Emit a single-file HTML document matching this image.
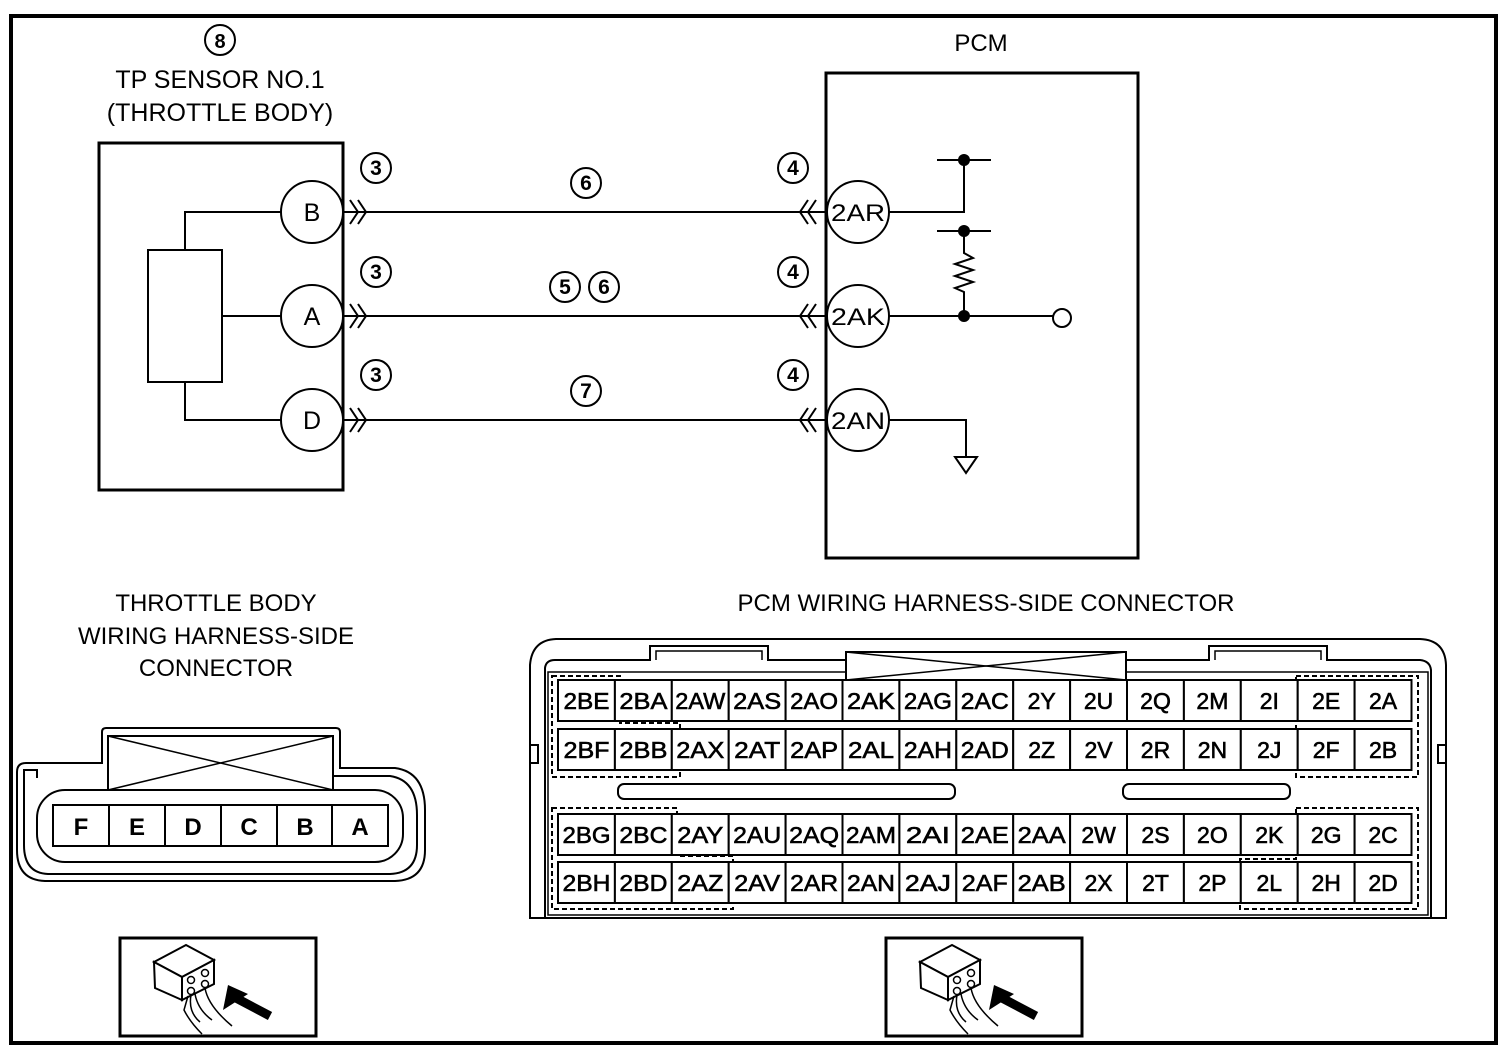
<!DOCTYPE html>
<html><head><meta charset="utf-8"><style>
html,body{margin:0;padding:0;background:#fff}
svg{display:block}
text{font-family:"Liberation Sans",sans-serif;fill:#000}
</style></head><body>
<svg width="1510" height="1054" viewBox="0 0 1510 1054" xmlns="http://www.w3.org/2000/svg">
<defs>
<g id="icon">
<rect x="0" y="0" width="196" height="98" fill="#fff" stroke="#000" stroke-width="3"/>
<polygon points="34,24 66,7 94,22 62,39" fill="#fff" stroke="#000" stroke-width="2"/>
<polygon points="34,24 62,39 62,62 35,50" fill="#fff" stroke="#000" stroke-width="2"/>
<polygon points="62,39 94,22 94,46 62,62" fill="#fff" stroke="#000" stroke-width="2"/>
<circle cx="71" cy="42" r="3.5" fill="none" stroke="#000" stroke-width="1.5"/>
<circle cx="85" cy="35" r="3.5" fill="none" stroke="#000" stroke-width="1.5"/>
<circle cx="71" cy="53" r="3.5" fill="none" stroke="#000" stroke-width="1.5"/>
<circle cx="85" cy="46" r="3.5" fill="none" stroke="#000" stroke-width="1.5"/>
<path d="M71,57 Q68,74 80,84 M75,56 Q78,72 92,82 M85,50 Q88,68 112,88 M68,58 L64,72 Q70,84 82,96" fill="none" stroke="#000" stroke-width="1.5"/>
<polygon points="103,72 108,47 128,56" fill="#000"/>
<line x1="116" y1="60" x2="150" y2="78" stroke="#000" stroke-width="9"/>
</g>
</defs>
<rect x="11" y="16" width="1485" height="1027" fill="none" stroke="#000" stroke-width="4"/>

<circle cx="220" cy="40" r="15" fill="none" stroke="#000" stroke-width="2"/>
<text x="220" y="48" font-size="20" font-weight="bold" text-anchor="middle">8</text>
<text x="220" y="88" font-size="25" text-anchor="middle">TP SENSOR NO.1</text>
<text x="220" y="121" font-size="25" text-anchor="middle">(THROTTLE BODY)</text>
<text x="981" y="51" font-size="24" text-anchor="middle">PCM</text>

<rect x="99" y="143" width="244" height="347" fill="none" stroke="#000" stroke-width="3"/>
<rect x="148" y="250" width="74" height="132" fill="none" stroke="#000" stroke-width="2"/>
<polyline points="281,212 185,212 185,250" fill="none" stroke="#000" stroke-width="2"/>
<line x1="222" y1="316" x2="281" y2="316" stroke="#000" stroke-width="2"/>
<polyline points="185,382 185,420 281,420" fill="none" stroke="#000" stroke-width="2"/>
<g fill="#fff" stroke="#000" stroke-width="2">
<circle cx="312" cy="212" r="31"/><circle cx="312" cy="316" r="31"/><circle cx="312" cy="420" r="31"/>
</g>
<text x="312" y="221" font-size="25" text-anchor="middle">B</text>
<text x="312" y="325" font-size="25" text-anchor="middle">A</text>
<text x="312" y="429" font-size="25" text-anchor="middle">D</text>

<rect x="826" y="73" width="312" height="485" fill="none" stroke="#000" stroke-width="3"/>

<g stroke="#000" stroke-width="2" fill="none">
<line x1="343" y1="212" x2="826" y2="212"/>
<line x1="343" y1="316" x2="826" y2="316"/>
<line x1="343" y1="420" x2="826" y2="420"/>
<path d="M350,200 L358,212 L350,224 M358,200 L366,212 L358,224"/>
<path d="M350,304 L358,316 L350,328 M358,304 L366,316 L358,328"/>
<path d="M350,408 L358,420 L350,432 M358,408 L366,420 L358,432"/>
<path d="M808,200 L800,212 L808,224 M816,200 L808,212 L816,224"/>
<path d="M808,304 L800,316 L808,328 M816,304 L808,316 L816,328"/>
<path d="M808,408 L800,420 L808,432 M816,408 L808,420 L816,432"/>
</g>
<g fill="#fff" stroke="#000" stroke-width="2">
<circle cx="858" cy="212" r="31"/><circle cx="858" cy="316" r="31"/><circle cx="858" cy="420" r="31"/>
</g>
<text x="858" y="221" font-size="24" text-anchor="middle" textLength="54" lengthAdjust="spacingAndGlyphs">2AR</text>
<text x="858" y="325" font-size="24" text-anchor="middle" textLength="54" lengthAdjust="spacingAndGlyphs">2AK</text>
<text x="858" y="429" font-size="24" text-anchor="middle" textLength="54" lengthAdjust="spacingAndGlyphs">2AN</text>

<g stroke="#000" stroke-width="2" fill="none">
<polyline points="889,212 964,212 964,160"/>
<line x1="937" y1="160" x2="991" y2="160"/>
<line x1="937" y1="231" x2="991" y2="231"/>
<polyline points="964,231 964,253 973,258 955,264 973,270 955,276 973,282 955,288 964,292 964,316"/>
<line x1="889" y1="316" x2="1053" y2="316"/>
<circle cx="1062" cy="318" r="9"/>
<polyline points="889,420 966,420 966,457"/>
<polygon points="955,457 977,457 966,473"/>
</g>
<circle cx="964" cy="160" r="6"/><circle cx="964" cy="231" r="6"/><circle cx="964" cy="316" r="6"/>

<g fill="none" stroke="#000" stroke-width="2">
<circle cx="376" cy="168" r="15"/><circle cx="376" cy="272" r="15"/><circle cx="376" cy="375" r="15"/>
<circle cx="793" cy="168" r="15"/><circle cx="793" cy="272" r="15"/><circle cx="793" cy="375" r="15"/>
<circle cx="586" cy="183" r="15"/><circle cx="565" cy="287" r="15"/><circle cx="604" cy="287" r="15"/><circle cx="586" cy="391" r="15"/>
</g>
<g font-size="21" font-weight="bold" text-anchor="middle">
<text x="376" y="175">3</text><text x="376" y="279">3</text><text x="376" y="382">3</text>
<text x="793" y="175">4</text><text x="793" y="279">4</text><text x="793" y="382">4</text>
<text x="586" y="190">6</text><text x="565" y="294">5</text><text x="604" y="294">6</text><text x="586" y="398">7</text>
</g>

<g font-size="24" text-anchor="middle">
<text x="216" y="611">THROTTLE BODY</text>
<text x="216" y="644">WIRING HARNESS-SIDE</text>
<text x="216" y="676">CONNECTOR</text>
<text x="986" y="611">PCM WIRING HARNESS-SIDE CONNECTOR</text>
</g>

<g fill="none" stroke="#000" stroke-width="2">
<path d="M102,763 L102,732 Q102,728 106,728 L336,728 Q340,728 340,732 L340,768 L395,768 Q425,772 425,810 L425,850 Q425,880 395,881 L45,881 Q17,880 17,850 L17,772 Q17,763 26,763 Z"/>
<path d="M108,772 L108,736 L333,736 L333,776 L390,776 Q417,780 417,815 L417,845 Q417,873 390,874 L48,874 Q24,873 24,845 L24,770 L37,770 L37,778"/>
<rect x="108" y="736" width="225" height="54"/>
<line x1="108" y1="736" x2="333" y2="790" stroke-width="1.5"/>
<line x1="333" y1="736" x2="108" y2="790" stroke-width="1.5"/>
<rect x="37" y="790" width="366" height="72" rx="28"/>
<rect x="53" y="805" width="335" height="41"/>
<line x1="109" y1="805" x2="109" y2="846"/><line x1="165" y1="805" x2="165" y2="846"/>
<line x1="221" y1="805" x2="221" y2="846"/><line x1="277" y1="805" x2="277" y2="846"/>
<line x1="332" y1="805" x2="332" y2="846"/>
</g>
<g font-size="24" font-weight="bold" text-anchor="middle">
<text x="81" y="835">F</text><text x="137" y="835">E</text><text x="193" y="835">D</text>
<text x="249" y="835">C</text><text x="305" y="835">B</text><text x="360" y="835">A</text>
</g>

<g fill="none" stroke="#000" stroke-width="2">
<path d="M530,665 Q532,640 556,639 L1420,639 Q1445,640 1446,665 L1446,918 L530,918 Z"/>
<path d="M545,918 L545,668 Q546,660 555,660 L650,660 L650,646 L768,646 L768,660 L1209,660 L1209,646 L1327,646 L1327,660 L1420,660 Q1430,661 1431,670 L1431,918"/>
<path d="M548,915 L548,672 L1428,672 L1428,915 Z" stroke-width="1.5"/>
<path d="M656,660 L656,651 L762,651 L762,660 M1215,660 L1215,651 L1321,651 L1321,660" stroke-width="1.5"/>
<rect x="846" y="652" width="280" height="28" fill="#fff"/>
<line x1="846" y1="652" x2="1126" y2="680" stroke-width="1.5"/>
<line x1="1126" y1="652" x2="846" y2="680" stroke-width="1.5"/>
<rect x="618" y="784" width="337" height="15" rx="6"/>
<rect x="1123" y="784" width="167" height="15" rx="6"/>
<rect x="530" y="745" width="8" height="18"/><rect x="1438" y="745" width="8" height="18"/>
</g>
<g fill="none" stroke="#000" stroke-width="2" stroke-dasharray="5,3">
<path d="M552,676 L620,676 L620,723 L680,723 L680,777 L552,777 Z"/>
<path d="M1296,676 L1418,676 L1418,777 L1296,777 Z"/>
<path d="M552,808 L677,808 L677,856 L733,856 L733,909 L552,909 Z"/>
<path d="M1296,808 L1418,808 L1418,909 L1240,909 L1240,859 L1296,859 Z"/>
</g>

<g fill="#fff" stroke="#000" stroke-width="2">
<rect x="558" y="680" width="56.9" height="41"/><rect x="614.9" y="680" width="56.9" height="41"/><rect x="671.8" y="680" width="56.9" height="41"/><rect x="728.7" y="680" width="56.9" height="41"/><rect x="785.6" y="680" width="56.9" height="41"/><rect x="842.5" y="680" width="56.9" height="41"/><rect x="899.4" y="680" width="56.9" height="41"/><rect x="956.3" y="680" width="56.9" height="41"/><rect x="1013.2" y="680" width="56.9" height="41"/><rect x="1070.1" y="680" width="56.9" height="41"/><rect x="1127" y="680" width="56.9" height="41"/><rect x="1183.9" y="680" width="56.9" height="41"/><rect x="1240.8" y="680" width="56.9" height="41"/><rect x="1297.7" y="680" width="56.9" height="41"/><rect x="1354.6" y="680" width="56.9" height="41"/>
<rect x="558" y="729" width="56.9" height="41"/><rect x="614.9" y="729" width="56.9" height="41"/><rect x="671.8" y="729" width="56.9" height="41"/><rect x="728.7" y="729" width="56.9" height="41"/><rect x="785.6" y="729" width="56.9" height="41"/><rect x="842.5" y="729" width="56.9" height="41"/><rect x="899.4" y="729" width="56.9" height="41"/><rect x="956.3" y="729" width="56.9" height="41"/><rect x="1013.2" y="729" width="56.9" height="41"/><rect x="1070.1" y="729" width="56.9" height="41"/><rect x="1127" y="729" width="56.9" height="41"/><rect x="1183.9" y="729" width="56.9" height="41"/><rect x="1240.8" y="729" width="56.9" height="41"/><rect x="1297.7" y="729" width="56.9" height="41"/><rect x="1354.6" y="729" width="56.9" height="41"/>
<rect x="558" y="814" width="56.9" height="41"/><rect x="614.9" y="814" width="56.9" height="41"/><rect x="671.8" y="814" width="56.9" height="41"/><rect x="728.7" y="814" width="56.9" height="41"/><rect x="785.6" y="814" width="56.9" height="41"/><rect x="842.5" y="814" width="56.9" height="41"/><rect x="899.4" y="814" width="56.9" height="41"/><rect x="956.3" y="814" width="56.9" height="41"/><rect x="1013.2" y="814" width="56.9" height="41"/><rect x="1070.1" y="814" width="56.9" height="41"/><rect x="1127" y="814" width="56.9" height="41"/><rect x="1183.9" y="814" width="56.9" height="41"/><rect x="1240.8" y="814" width="56.9" height="41"/><rect x="1297.7" y="814" width="56.9" height="41"/><rect x="1354.6" y="814" width="56.9" height="41"/>
<rect x="558" y="862" width="56.9" height="41"/><rect x="614.9" y="862" width="56.9" height="41"/><rect x="671.8" y="862" width="56.9" height="41"/><rect x="728.7" y="862" width="56.9" height="41"/><rect x="785.6" y="862" width="56.9" height="41"/><rect x="842.5" y="862" width="56.9" height="41"/><rect x="899.4" y="862" width="56.9" height="41"/><rect x="956.3" y="862" width="56.9" height="41"/><rect x="1013.2" y="862" width="56.9" height="41"/><rect x="1070.1" y="862" width="56.9" height="41"/><rect x="1127" y="862" width="56.9" height="41"/><rect x="1183.9" y="862" width="56.9" height="41"/><rect x="1240.8" y="862" width="56.9" height="41"/><rect x="1297.7" y="862" width="56.9" height="41"/><rect x="1354.6" y="862" width="56.9" height="41"/>
</g>
<g font-size="23" text-anchor="middle" stroke="#000" stroke-width="0.6">
<text x="586.5" y="709" textLength="46" lengthAdjust="spacingAndGlyphs">2BE</text><text x="643.4" y="709" textLength="48" lengthAdjust="spacingAndGlyphs">2BA</text><text x="700.3" y="709" textLength="50" lengthAdjust="spacingAndGlyphs">2AW</text><text x="757.2" y="709" textLength="48" lengthAdjust="spacingAndGlyphs">2AS</text><text x="814.1" y="709" textLength="48" lengthAdjust="spacingAndGlyphs">2AO</text><text x="871" y="709" textLength="48" lengthAdjust="spacingAndGlyphs">2AK</text><text x="927.9" y="709" textLength="48" lengthAdjust="spacingAndGlyphs">2AG</text><text x="984.8" y="709" textLength="48" lengthAdjust="spacingAndGlyphs">2AC</text><text x="1041.7" y="709">2Y</text><text x="1098.6" y="709">2U</text><text x="1155.5" y="709">2Q</text><text x="1212.4" y="709">2M</text><text x="1269.3" y="709">2I</text><text x="1326.2" y="709">2E</text><text x="1383.1" y="709">2A</text>
<text x="586.5" y="758" textLength="46" lengthAdjust="spacingAndGlyphs">2BF</text><text x="643.4" y="758" textLength="48" lengthAdjust="spacingAndGlyphs">2BB</text><text x="700.3" y="758" textLength="48" lengthAdjust="spacingAndGlyphs">2AX</text><text x="757.2" y="758" textLength="46" lengthAdjust="spacingAndGlyphs">2AT</text><text x="814.1" y="758" textLength="48" lengthAdjust="spacingAndGlyphs">2AP</text><text x="871" y="758" textLength="46" lengthAdjust="spacingAndGlyphs">2AL</text><text x="927.9" y="758" textLength="48" lengthAdjust="spacingAndGlyphs">2AH</text><text x="984.8" y="758" textLength="48" lengthAdjust="spacingAndGlyphs">2AD</text><text x="1041.7" y="758">2Z</text><text x="1098.6" y="758">2V</text><text x="1155.5" y="758">2R</text><text x="1212.4" y="758">2N</text><text x="1269.3" y="758">2J</text><text x="1326.2" y="758">2F</text><text x="1383.1" y="758">2B</text>
<text x="586.5" y="843" textLength="48" lengthAdjust="spacingAndGlyphs">2BG</text><text x="643.4" y="843" textLength="48" lengthAdjust="spacingAndGlyphs">2BC</text><text x="700.3" y="843" textLength="46" lengthAdjust="spacingAndGlyphs">2AY</text><text x="757.2" y="843" textLength="48" lengthAdjust="spacingAndGlyphs">2AU</text><text x="814.1" y="843" textLength="50" lengthAdjust="spacingAndGlyphs">2AQ</text><text x="871" y="843" textLength="50" lengthAdjust="spacingAndGlyphs">2AM</text><text x="927.9" y="843" textLength="44" lengthAdjust="spacingAndGlyphs">2AI</text><text x="984.8" y="843" textLength="48" lengthAdjust="spacingAndGlyphs">2AE</text><text x="1041.7" y="843" textLength="48" lengthAdjust="spacingAndGlyphs">2AA</text><text x="1098.6" y="843">2W</text><text x="1155.5" y="843">2S</text><text x="1212.4" y="843">2O</text><text x="1269.3" y="843">2K</text><text x="1326.2" y="843">2G</text><text x="1383.1" y="843">2C</text>
<text x="586.5" y="891" textLength="48" lengthAdjust="spacingAndGlyphs">2BH</text><text x="643.4" y="891" textLength="48" lengthAdjust="spacingAndGlyphs">2BD</text><text x="700.3" y="891" textLength="46" lengthAdjust="spacingAndGlyphs">2AZ</text><text x="757.2" y="891" textLength="46" lengthAdjust="spacingAndGlyphs">2AV</text><text x="814.1" y="891" textLength="48" lengthAdjust="spacingAndGlyphs">2AR</text><text x="871" y="891" textLength="48" lengthAdjust="spacingAndGlyphs">2AN</text><text x="927.9" y="891" textLength="46" lengthAdjust="spacingAndGlyphs">2AJ</text><text x="984.8" y="891" textLength="46" lengthAdjust="spacingAndGlyphs">2AF</text><text x="1041.7" y="891" textLength="48" lengthAdjust="spacingAndGlyphs">2AB</text><text x="1098.6" y="891">2X</text><text x="1155.5" y="891">2T</text><text x="1212.4" y="891">2P</text><text x="1269.3" y="891">2L</text><text x="1326.2" y="891">2H</text><text x="1383.1" y="891">2D</text>
</g>

<use href="#icon" x="120" y="938"/>
<use href="#icon" x="886" y="938"/>
</svg>
</body></html>
